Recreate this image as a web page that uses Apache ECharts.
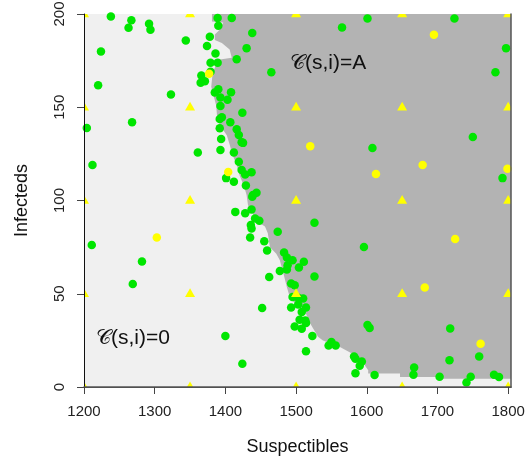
<!DOCTYPE html>
<html>
<head>
<meta charset="utf-8">
<script src="https://cdn.jsdelivr.net/npm/echarts@6/dist/echarts.min.js"></script>
<style>
	html, body { margin: 0; padding: 0; background: #fff; }
	#main { width: 525px; height: 462px; }
</style>
</head>
<body>
<div id="main"></div>
<script>
	// axis ticks
	var xTicks = [1200, 1300, 1400, 1500, 1600, 1700, 1800];
	var yTicks = [0, 50, 100, 150, 200];

	// boundary of the region where C(s,i)=A (read top to bottom)
	var boundaryI = [200, 196, 195.5, 191.5, 189, 186, 184.5, 181, 176.5, 175.5, 168.5, 161, 151, 146, 140.5, 135, 130, 124.5, 119, 113.5, 108, 103, 97.5, 92, 88, 86, 82.5, 75, 71.5, 68, 61, 53.5, 47, 41, 34, 27, 25, 21.5, 18, 14, 9, 7.2, 7.2, 5.4, 5.4, 4.4, 4.4];
	var boundaryS = [1381, 1381, 1397, 1392, 1385, 1385, 1395, 1406, 1409, 1390, 1382, 1380, 1387, 1388, 1392, 1402, 1406, 1410, 1416, 1420, 1426, 1430, 1432, 1440, 1448, 1456, 1460, 1463, 1472, 1477, 1482, 1487, 1492, 1512, 1520, 1531, 1538, 1562, 1579, 1593, 1602, 1602, 1647, 1647, 1708, 1708, 1810];

	// grid design points (triangles)
	var triS = [1200, 1350, 1500, 1650, 1800];
	var triI = [0, 50, 100, 150, 200];

	// simulated points
	var greenPoints = [
		[1238,198.7],[1267,196.6],[1263,192.6],[1292,194.8],[1294,191.6],[1224,179.9],[1220,161.8],[1344,185.8],[1323,156.8],[1268,142],
		[1204,138.9],[1212,119],[1361,125.8],[1211,76.2],[1282,67.3],[1269,55.2],[1400,27.3],[1424,12.5],[1452,42.3],
		[1389,197.9],[1409,197.9],[1390,193.7],[1438,189.8],[1378,187.8],[1374,182.8],[1430,181.7],[1386,178.8],[1416,175.8],[1379,173.8],
		[1389,173.8],[1465,168.8],[1379,169],[1366,167],[1371,164],[1365,163.1],[1390,159.7],[1385,157.9],[1408,158.1],[1393,155.2],
		[1403,154],[1393,150.7],[1424,147.1],[1395,144.7],[1392,143.7],[1407,142],[1392,138.7],[1416,138.2],[1419,135.1],[1423,131.2],
		[1425,130.9],[1394,133],[1393,127.1],[1412,125.8],[1419,120.8],[1423,116.3],[1428,114],[1437,115.1],[1401,112],[1412,110],
		[1429,108.1],[1439,102.9],[1444,104.1],[1438,102],
		[1414,93.9],[1428,93.1],[1437,95.2],[1442,90.4],[1448,89.1],[1436,86.8],[1437,85],[1435,80.2],[1474,83.2],[1455,78.2],
		[1526,88.1],[1459,73.2],[1483,72.1],[1487,69.4],[1495,68],[1511,67.2],[1488,65.3],[1487,63],[1504,64.1],[1477,62.2],
		[1462,59],[1526,59.2],[1493,55.5],[1498,54.5],[1596,75.1],[1495,48.3],[1503,47.9],[1510,47.4],[1493,42.6],[1503,44.3],
		[1514,42.6],[1508,40.2],[1505,36.1],[1513,35.7],[1514,34.3],[1498,32.5],[1508,31.3],[1523,27.3],[1514,19.2],[1546,22.3],
		[1550,24.1],[1556,22.3],[1582,16.4],[1584,15.2],[1593,13.7],[1590,11.4],[1584,7.4],[1611,6.4],[1601,33.2],[1604,31.7],
		[1601,197.6],[1565,192.8],[1724,197.6],[1797,181.7],[1782,168.8],[1750,134.1],[1608,128.2],[1792,112],[1718,31.4],[1759,16.4],
		[1717,14.4],[1667,10.5],[1666,6.6],[1703,5.5],[1747,5.5],[1741,2.4],[1780,6.6],[1787,5.4]
	];
	var yellowPoints = [
		[1377,167.9],[1404,115.3],[1695,188.9],[1520,129.1],[1613,114.2],[1679,119],[1799,117],[1303,80.2],[1725,79.3],[1682,53.3],[1761,23.2]
	];

	var FONT = 'Liberation Sans, Arial, Helvetica, sans-serif';
	var X_MIN = 1200, X_MAX = 1804, Y_MIN = 0, Y_MAX = 200;
	var GREEN = '#00e600', YELLOW = '#ffff00';

	var triData = [];
	triI.forEach(function(i){
		triS.forEach(function(s){
			triData.push([s, i]);
		});
	});
	var boundaryData = boundaryS.map(function(s, k){ return [s, boundaryI[k]]; });

	function renderRegion(params, api) {
		if (params.dataIndex !== 0) {
			return;
		}
		var pts = [api.coord([boundaryS[boundaryS.length - 1], Y_MAX])];
		for (var k = 0; k < boundaryS.length; k++) {
			pts.push(api.coord([boundaryS[k], boundaryI[k]]));
		}
		return {
			type: 'polygon',
			shape: { points: pts },
			style: { fill: '#b3b3b3' }
		};
	}

	function renderTriangle(params, api) {
		var c = api.coord([api.value(0), api.value(1)]);
		return {
			type: 'polygon',
			shape: { points: [[c[0], c[1] - 5.5], [c[0] - 5, c[1] + 3.2], [c[0] + 5, c[1] + 3.2]] },
			style: { fill: YELLOW }
		};
	}

	var frameAxis = {
		type: 'value',
		axisLine: { show: true, lineStyle: { color: '#555', width: 1.5 } },
		axisTick: { show: false },
		axisLabel: { show: false },
		splitLine: { show: false },
		z: 10
	};

	var myChart = echarts.init(document.getElementById('main'), null, { renderer: 'canvas' });
	var option = {
		animation: false,
		backgroundColor: '#fff',
		grid: {
			left: 84, right: 14, top: 14, bottom: 75,
			show: true,
			backgroundColor: '#f0f0f0',
			borderWidth: 0,
			containLabel: false,
			outerBoundsMode: 'none'
		},
		xAxis: [
			{
				type: 'value',
				min: X_MIN, max: X_MAX,
				position: 'bottom',
				name: 'Suspectibles',
				nameLocation: 'middle',
				nameGap: 51,
				nameTextStyle: { fontSize: 18, color: '#111', fontFamily: FONT },
				axisLine: { show: true, onZero: false, lineStyle: { color: '#444', width: 1 } },
				axisTick: { show: true, length: 7, customValues: xTicks, lineStyle: { color: '#444' } },
				axisLabel: {
					customValues: xTicks, margin: 17, fontSize: 15, color: '#222', fontFamily: FONT,
					formatter: function(v){ return String(v); }
				},
				splitLine: { show: false },
				z: 10
			},
			Object.assign({}, frameAxis, { min: X_MIN, max: X_MAX, position: 'top' })
		],
		yAxis: [
			{
				type: 'value',
				min: Y_MIN, max: Y_MAX,
				position: 'left',
				name: 'Infecteds',
				nameLocation: 'middle',
				nameGap: 53,
				nameTextStyle: { fontSize: 18, color: '#111', fontFamily: FONT },
				axisLine: { show: true, onZero: false, lineStyle: { color: '#111', width: 1 } },
				axisTick: { show: true, length: 7, customValues: yTicks, lineStyle: { color: '#444' } },
				axisLabel: {
					customValues: yTicks, rotate: 90, margin: 17, fontSize: 15, color: '#222', fontFamily: FONT,
					formatter: function(v){ return String(v); }
				},
				splitLine: { show: false },
				z: 10
			},
			Object.assign({}, frameAxis, { min: Y_MIN, max: Y_MAX, position: 'right' })
		],
		series: [
			{
				name: 'region',
				type: 'custom',
				clip: true,
				renderItem: renderRegion,
				data: boundaryData,
				z: 1
			},
			{
				name: 'green',
				type: 'scatter',
				symbol: 'circle',
				symbolSize: 8.5,
				itemStyle: { color: GREEN, opacity: 1 },
				data: greenPoints,
				z: 2
			},
			{
				name: 'yellow',
				type: 'scatter',
				symbol: 'circle',
				symbolSize: 8.5,
				itemStyle: { color: YELLOW, opacity: 1 },
				data: yellowPoints,
				z: 3
			},
			{
				name: 'design',
				type: 'custom',
				clip: true,
				renderItem: renderTriangle,
				data: triData,
				z: 4
			}
		],
		graphic: [
			{
				type: 'text', x: 290, y: 63, z: 20,
				style: { text: '\uD835\uDC9E(s,i)=A', fontSize: 21, fontFamily: FONT, fill: '#111', verticalAlign: 'middle' }
			},
			{
				type: 'text', x: 96, y: 338, z: 20,
				style: { text: '\uD835\uDC9E(s,i)=0', fontSize: 21, fontFamily: FONT, fill: '#111', verticalAlign: 'middle' }
			}
		]
	};
	myChart.setOption(option);
</script>
</body>
</html>
